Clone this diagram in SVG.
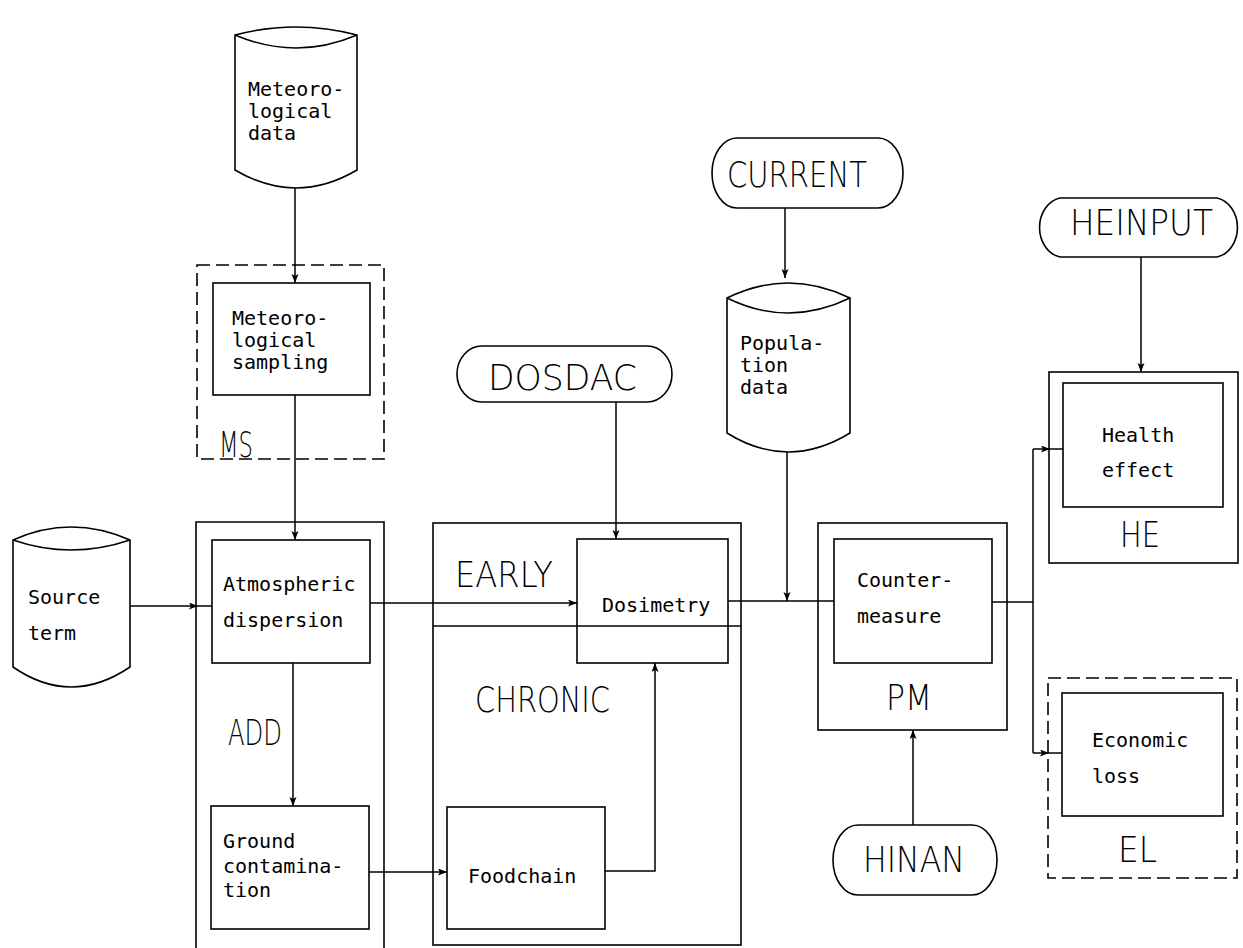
<svg xmlns="http://www.w3.org/2000/svg" width="1243" height="948" viewBox="0 0 1243 948">
<style>
.box{fill:none;stroke:#000;stroke-width:1.6}
.dash{fill:none;stroke:#000;stroke-width:1.6;stroke-dasharray:13 6}
.shape{fill:#fff;stroke:#000;stroke-width:1.6}
.ln{fill:none;stroke:#000;stroke-width:1.5}
.m{font-family:"DejaVu Sans Mono","Liberation Mono",monospace;font-size:20px;fill:#000}
.b{font-family:"DejaVu Sans","Liberation Sans",sans-serif;font-weight:200;font-size:36px;fill:#000}
</style>
<defs>
<marker id="ah" markerWidth="10" markerHeight="8" refX="9" refY="3.5" orient="auto" markerUnits="userSpaceOnUse">
<path d="M0,0 L9,3.5 L0,7 L2,3.5 Z" fill="#000"/>
</marker>
</defs>
<rect width="1243" height="948" fill="#fff"/>

<g id="connectors">
<path class="ln" d="M295,188 V283" marker-end="url(#ah)"/>
<path class="ln" d="M295,395 V540" marker-end="url(#ah)"/>
<path class="ln" d="M130,606 H198" marker-end="url(#ah)"/>
<path class="ln" d="M198,606 H212"/>
<path class="ln" d="M370,603 H577" marker-end="url(#ah)"/>
<path class="ln" d="M293,663 V806" marker-end="url(#ah)"/>
<path class="ln" d="M369,872 H447" marker-end="url(#ah)"/>
<path class="ln" d="M605,871 H655 V663" marker-end="url(#ah)"/>
<path class="ln" d="M616,402 V539" marker-end="url(#ah)"/>
<path class="ln" d="M785,208 V278" marker-end="url(#ah)"/>
<path class="ln" d="M787,452 V601" marker-end="url(#ah)"/>
<path class="ln" d="M728,601 H834"/>
<path class="ln" d="M992,602 H1033"/>
<path class="ln" d="M1033,449 V753"/>
<path class="ln" d="M1033,449 H1050" marker-end="url(#ah)"/>
<path class="ln" d="M1050,449 H1063"/>
<path class="ln" d="M1033,753 H1049" marker-end="url(#ah)"/>
<path class="ln" d="M1049,753 H1062"/>
<path class="ln" d="M1141,257 V372" marker-end="url(#ah)"/>
<path class="ln" d="M913,825 V730" marker-end="url(#ah)"/>
</g>

<g id="met-data">
<path class="shape" d="M235,35 Q296,19 357,35 V170 Q296,206 235,170 Z"/>
<path class="ln" d="M235,35 Q296,61 357,35"/>
<text class="m" x="248" y="96">Meteoro-</text>
<text class="m" x="248" y="118">logical</text>
<text class="m" x="248" y="140">data</text>
</g>

<g id="ms">
<rect class="dash" x="197" y="265" width="187" height="194"/>
<rect class="box" x="213" y="283" width="157" height="112"/>
<text class="m" x="232" y="325">Meteoro-</text>
<text class="m" x="232" y="347">logical</text>
<text class="m" x="232" y="369">sampling</text>
<text class="b" x="219" y="457" font-size="34" textLength="34" lengthAdjust="spacingAndGlyphs">MS</text>
</g>

<g id="source-term">
<path class="shape" d="M13,540 Q71,514 130,540 V667 Q71,707 13,667 Z"/>
<path class="ln" d="M13,540 Q71,560 130,540"/>
<text class="m" x="28" y="604">Source</text>
<text class="m" x="28" y="640">term</text>
</g>

<g id="add">
<path class="box" d="M196,948 V522 H384 V948"/>
<rect class="box" x="212" y="540" width="158" height="123"/>
<text class="m" x="223" y="591">Atmospheric</text>
<text class="m" x="223" y="627">dispersion</text>
<text class="b" x="228" y="745" font-size="37" textLength="54" lengthAdjust="spacingAndGlyphs">ADD</text>
<rect class="box" x="211" y="806" width="158" height="123"/>
<text class="m" x="223" y="848">Ground</text>
<text class="m" x="223" y="873">contamina-</text>
<text class="m" x="223" y="897">tion</text>
</g>

<g id="early-chronic">
<rect class="box" x="433" y="523" width="308" height="422"/>
<line class="ln" x1="433" y1="626" x2="741" y2="626"/>
<text class="b" x="455" y="587" textLength="98" lengthAdjust="spacingAndGlyphs">EARLY</text>
<text class="b" x="475" y="712" textLength="135" lengthAdjust="spacingAndGlyphs">CHRONIC</text>
</g>

<g id="dosimetry">
<rect class="box" x="577" y="539" width="151" height="124"/>
<text class="m" x="602" y="612">Dosimetry</text>
</g>

<g id="foodchain">
<rect class="box" x="447" y="807" width="158" height="122"/>
<text class="m" x="468" y="883">Foodchain</text>
</g>

<g id="dosdac">
<path class="shape" d="M482,346 H647 A25,28 0 0 1 647,402 H482 A25,28 0 0 1 482,346 Z"/>
<text class="b" x="488" y="390" font-size="37" textLength="149" lengthAdjust="spacingAndGlyphs">DOSDAC</text>
</g>

<g id="current">
<path class="shape" d="M737,138 H878 A25,35 0 0 1 878,208 H737 A25,35 0 0 1 737,138 Z"/>
<text class="b" x="727" y="187" font-size="35" textLength="140" lengthAdjust="spacingAndGlyphs">CURRENT</text>
</g>

<g id="population">
<path class="shape" d="M727,298 Q788,268 850,298 V433 Q788,471 727,433 Z"/>
<path class="ln" d="M727,298 Q788,328 850,298"/>
<text class="m" x="740" y="350">Popula-</text>
<text class="m" x="740" y="372">tion</text>
<text class="m" x="740" y="394">data</text>
</g>

<g id="pm">
<rect class="box" x="818" y="523" width="189" height="207"/>
<rect class="box" x="834" y="539" width="158" height="124"/>
<text class="m" x="857" y="587">Counter-</text>
<text class="m" x="857" y="623">measure</text>
<text class="b" x="886" y="710" font-size="35" textLength="46" lengthAdjust="spacingAndGlyphs">PM</text>
</g>

<g id="hinan">
<path class="shape" d="M858,825 H972 A25,35 0 0 1 972,895 H858 A25,35 0 0 1 858,825 Z"/>
<text class="b" x="863" y="872" font-size="35" textLength="102" lengthAdjust="spacingAndGlyphs">HINAN</text>
</g>

<g id="heinput">
<path class="shape" d="M1060,198 H1217 A25,30 0 0 1 1217,257 H1060 A25,30 0 0 1 1060,198 Z"/>
<text class="b" x="1070" y="235" font-size="37" textLength="143" lengthAdjust="spacingAndGlyphs">HEINPUT</text>
</g>

<g id="he">
<rect class="box" x="1049" y="372" width="189" height="191"/>
<rect class="box" x="1063" y="383" width="160" height="124"/>
<text class="m" x="1102" y="442">Health</text>
<text class="m" x="1102" y="477">effect</text>
<text class="b" x="1120" y="547" font-size="35" textLength="40" lengthAdjust="spacingAndGlyphs">HE</text>
</g>

<g id="el">
<rect class="dash" x="1048" y="678" width="189" height="200"/>
<rect class="box" x="1062" y="693" width="161" height="123"/>
<text class="m" x="1092" y="747">Economic</text>
<text class="m" x="1092" y="783">loss</text>
<text class="b" x="1118" y="862" font-size="35" textLength="39" lengthAdjust="spacingAndGlyphs">EL</text>
</g>
</svg>
